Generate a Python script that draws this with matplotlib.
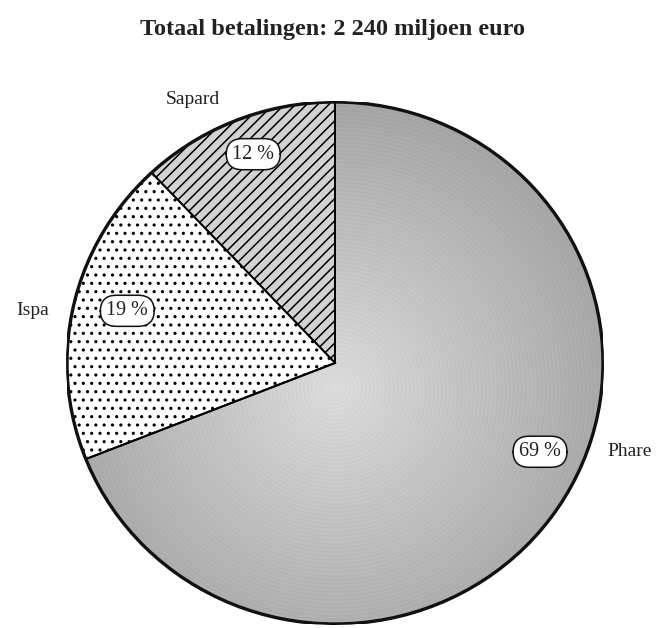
import numpy as np
import matplotlib
matplotlib.use("Agg")
import matplotlib.pyplot as plt
from matplotlib.patches import Ellipse

# data
programmes = ["Sapard", "Ispa", "Phare"]
shares = [12, 19, 69]
title = "Totaal betalingen: 2 240 miljoen euro"

# label placement (axes data coords, pie radius = 1)
name_pos = [(-0.53, 1.01), (-1.13, 0.20), (1.10, -0.34)]
pct_pos = [(-0.305, 0.80), (-0.775, 0.20), (0.765, -0.34)]

plt.rcParams["font.family"] = ["Liberation Serif", "DejaVu Serif"]
plt.rcParams["hatch.linewidth"] = 1.1

fig = plt.figure(figsize=(6.56, 6.28), dpi=100)
W, H = 656, 628
cx, cy, rx, ry = 335, 363, 268, 261
ax = fig.add_axes([(cx - rx) / W, 1 - (cy + ry) / H, 2 * rx / W, 2 * ry / H])

wedges, _ = ax.pie(shares, startangle=90, counterclock=True, radius=1,
                   wedgeprops=dict(edgecolor="black", linewidth=1.4))
ax.set_aspect("auto")
ax.set_xlim(-1, 1)
ax.set_ylim(-1, 1)
ax.axis("off")

# Sapard: light grey with diagonal hatch
wedges[0].set_facecolor("#d2d2d2")
wedges[0].set_hatch("///")
# Ispa: white with dots
wedges[1].set_facecolor("white")
wedges[1].set_hatch("..")
# Phare: radial grey gradient
wedges[2].set_facecolor("none")
yy, xx = np.mgrid[-1:1:800j, -1:1:800j]
rr = np.hypot(xx * rx, (yy + 0.1) * ry) / 268
shade = 0.86 - 0.20 * np.clip(rr, 0, 1.1) + 0.012 * np.sin(rr * 268 / 4.0 * 2 * np.pi)
im = ax.imshow(shade, cmap="gray", vmin=0, vmax=1, extent=[-1, 1, -1, 1],
               origin="lower", aspect="auto", zorder=0.5, interpolation="bilinear")
im.set_clip_path(wedges[2])

# outer outline
ax.add_patch(Ellipse((0, 0), 2, 2, fill=False, edgecolor="#111111", linewidth=2.4, zorder=3))

for name, (x, y) in zip(programmes, name_pos):
    ax.text(x, y, name, ha="center", va="center", fontsize=14, color="#222222",
            clip_on=False)

for val, (x, y) in zip(shares, pct_pos):
    ax.text(x, y, f"{val} %", ha="center", va="center", fontsize=14.5, color="#222222",
            zorder=5, bbox=dict(boxstyle="round,pad=0.3,rounding_size=0.8",
                                facecolor="white", edgecolor="#111111", linewidth=1.1))

fig.text(332 / W, 1 - 30 / H, title, ha="center", va="center", fontsize=17.5,
         fontweight="bold", color="#222222")

fig.savefig("out.png", dpi=100)
